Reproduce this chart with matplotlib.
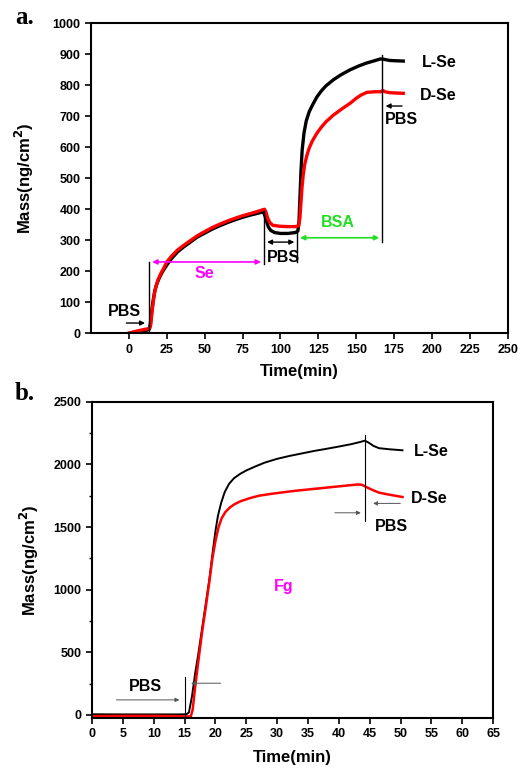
import matplotlib
matplotlib.use('Agg')
import matplotlib.pyplot as plt
from matplotlib.ticker import MultipleLocator

plt.rcParams['font.family'] = ['Liberation Sans', 'DejaVu Sans']
plt.rcParams['font.weight'] = 'bold'
plt.rcParams['axes.labelweight'] = 'bold'

# panel a: BSA adsorption
a_t_L = [0, 3, 6, 9, 12, 13.3, 14, 14.8, 15.8, 17, 18.5, 20, 22, 25, 28, 32, 36, 40, 45, 50,
         55, 60, 65, 70, 75, 80, 85, 88, 89, 90, 91, 92, 93.5, 96, 100, 105, 110, 111.5,
         112.2, 112.8, 113.5, 114.3, 115.5, 117, 119, 121, 124, 127, 130, 135, 140, 146,
         152, 157, 162, 166, 168, 172, 176, 181]
a_m_L = [0, 3, 6, 8, 10, 12, 25, 60, 100, 135, 160, 178, 197, 220, 240, 262, 278, 292, 310, 323,
         336, 347, 357, 366, 374, 381, 387, 391, 389, 375, 358, 343, 332, 325, 322, 322, 325, 330,
         360, 430, 520, 590, 645, 685, 715, 735, 762, 782, 798, 818, 834, 850,
         863, 872, 879, 885, 884, 880, 879, 878]
a_t_D = [0, 3, 6, 9, 12, 13.8, 14.5, 15.3, 16.3, 17.5, 19, 21, 23, 25, 28, 32, 36, 40, 45, 50,
         55, 60, 65, 70, 75, 80, 85, 88, 89.5, 90.5, 91.5, 93, 95, 100, 105, 110, 112,
         112.8, 113.5, 114.2, 115, 116, 117.5, 119, 121, 124, 127, 130, 135, 140, 146, 150,
         153, 157, 162, 166, 167.5, 169, 172, 176, 181]
a_m_D = [0, 4, 8, 11, 14, 16, 30, 70, 110, 145, 170, 192, 210, 230, 248, 268, 283, 297, 314, 328,
         341, 352, 362, 371, 379, 386, 393, 398, 400, 390, 372, 357, 348, 345, 344, 344, 347,
         370, 420, 470, 510, 545, 575, 598, 620, 645, 665, 682, 704, 722, 742, 758,
         768, 777, 779, 779, 783, 779, 776, 775, 774]

# panel b: Fg adsorption
b_t_L = [0, 5, 10, 14, 15.3, 15.7, 16.2, 16.7, 17.2, 17.8, 18.4, 19, 19.6, 20, 20.4, 20.9, 21.5,
         22.2, 23, 24, 25, 26.5, 28, 30, 32, 34, 36, 38, 40, 42, 43.5, 44.2, 44.8, 45.6, 46.5,
         48, 50.3]
b_m_L = [5, 4, 4, 4, 5, 20, 150, 330, 480, 680, 880, 1080, 1320, 1470, 1590, 1690, 1780,
         1845, 1890, 1925, 1952, 1985, 2015, 2045, 2068, 2088, 2108, 2125, 2143, 2162, 2180,
         2190, 2175, 2148, 2130, 2122, 2113]
b_t_D = [0, 5, 10, 14, 15.5, 16, 16.3, 16.7, 17.2, 17.8, 18.4, 19, 19.5, 20, 20.5, 21, 21.6,
         22.3, 23, 24, 25.5, 27, 29, 31, 33, 35, 37, 39, 41, 43, 43.7, 44.5, 45.5, 46.5, 48, 50.3]
b_m_D = [-10, -8, -8, -10, -12, -12, 40, 220, 420, 650, 850, 1060, 1250, 1390, 1500, 1570,
         1620, 1655, 1680, 1705, 1730, 1750, 1765, 1778, 1790, 1800, 1810, 1820, 1830, 1840,
         1838, 1818, 1795, 1775, 1760, 1740]

fig = plt.figure(figsize=(5.23, 7.75), dpi=100)
fs = 11.5  # annotation text size

# ---- panel a ----
ax1 = fig.add_axes([0.174, 0.570, 0.797, 0.400])
ax1.plot(a_t_L, a_m_L, color='black', lw=2.4)
ax1.plot(a_t_D, a_m_D, color='red', lw=2.4)
ax1.set_xlim(-25, 250)
ax1.set_ylim(0, 1000)
ax1.yaxis.set_major_locator(MultipleLocator(100))
ax1.set_xticks(range(0, 251, 25))
ax1.set_xlabel('Time(min)', fontsize=12, labelpad=6)
ax1.set_ylabel('Mass(ng/cm$^\\mathbf{2}$)', fontsize=12, labelpad=12)

lk = dict(color='black', lw=1)
ax1.plot([13.5, 13.5], [0, 230], **lk)
ax1.plot([89.3, 89.3], [224, 395], **lk)
ax1.plot([111, 111], [229, 337], **lk)
ax1.plot([167.2, 167.2], [294, 898], **lk)
ax1.annotate('', xy=(89, 230), xytext=(13.5, 230),
             arrowprops=dict(arrowstyle='<|-|>', color='magenta', lw=1.2, mutation_scale=7))
ax1.annotate('', xy=(111, 294), xytext=(89.3, 294),
             arrowprops=dict(arrowstyle='<|-|>', color='black', lw=1, mutation_scale=7))
ax1.annotate('', xy=(167, 308), xytext=(111, 308),
             arrowprops=dict(arrowstyle='<|-|>', color='#22dd22', lw=1.2, mutation_scale=7))
ax1.annotate('', xy=(12.5, 33), xytext=(-3.5, 33),
             arrowprops=dict(arrowstyle='-|>', color='black', lw=1, mutation_scale=7))
ax1.annotate('', xy=(167.5, 733), xytext=(182, 733),
             arrowprops=dict(arrowstyle='-|>', color='black', lw=1, mutation_scale=7))
ax1.text(-3, 71, 'PBS', fontsize=fs, ha='center', va='center')
ax1.text(50, 194, 'Se', fontsize=fs, ha='center', va='center', color='magenta')
ax1.text(101.7, 243, 'PBS', fontsize=fs, ha='center', va='center')
ax1.text(138, 356, 'BSA', fontsize=fs, ha='center', va='center', color='#22dd22')
ax1.text(180, 691, 'PBS', fontsize=fs, ha='center', va='center')
ax1.text(204.6, 873, 'L-Se', fontsize=fs, ha='center', va='center')
ax1.text(204, 766, 'D-Se', fontsize=fs, ha='center', va='center')

# ---- panel b ----
ax2 = fig.add_axes([0.176, 0.0735, 0.767, 0.408])
ax2.plot(b_t_L, b_m_L, color='black', lw=1.4)
ax2.plot(b_t_D, b_m_D, color='red', lw=1.8)
ax2.set_xlim(0, 65)
ax2.set_ylim(-25, 2500)
ax2.xaxis.set_major_locator(MultipleLocator(5))
ax2.yaxis.set_major_locator(MultipleLocator(500))
ax2.yaxis.set_minor_locator(MultipleLocator(250))
ax2.set_xlabel('Time(min)', fontsize=12, labelpad=7)
ax2.set_ylabel('Mass(ng/cm$^\\mathbf{2}$)', fontsize=12, labelpad=9)

ax2.plot([15.1, 15.1], [-25, 306], color='black', lw=0.8)
ax2.plot([44.3, 44.3], [1551, 2234], color='black', lw=0.8)
ak = dict(arrowstyle='-|>', color='#555555', lw=0.7, mutation_scale=6)
ax2.annotate('', xy=(14.6, 120), xytext=(3.5, 120), arrowprops=ak)
ax2.annotate('', xy=(15.6, 253), xytext=(21.3, 253), arrowprops=ak)
ax2.annotate('', xy=(44.0, 1614), xytext=(38.9, 1614), arrowprops=ak)
ax2.annotate('', xy=(45.1, 1689), xytext=(50.4, 1689), arrowprops=ak)
ax2.text(8.6, 226, 'PBS', fontsize=fs, ha='center', va='center')
ax2.text(48.5, 1503, 'PBS', fontsize=fs, ha='center', va='center')
ax2.text(31.1, 1024, 'Fg', fontsize=fs, ha='center', va='center', color='magenta')
ax2.text(54.9, 2106, 'L-Se', fontsize=fs, ha='center', va='center')
ax2.text(54.7, 1729, 'D-Se', fontsize=fs, ha='center', va='center')

for ax in (ax1, ax2):
    for s in ax.spines.values():
        s.set_linewidth(1.5)
    ax.tick_params(which='major', direction='out', length=4, width=1.2, labelsize=9)
    ax.tick_params(which='minor', direction='out', length=2.5, width=1)

fig.text(25 / 523, 1 - 17 / 775, 'a.', fontsize=18, fontweight='bold',
         family='Liberation Serif', ha='center', va='center')
fig.text(25 / 523, 1 - 393 / 775, 'b.', fontsize=18, fontweight='bold',
         family='Liberation Serif', ha='center', va='center')

fig.savefig('out.png', dpi=100)
